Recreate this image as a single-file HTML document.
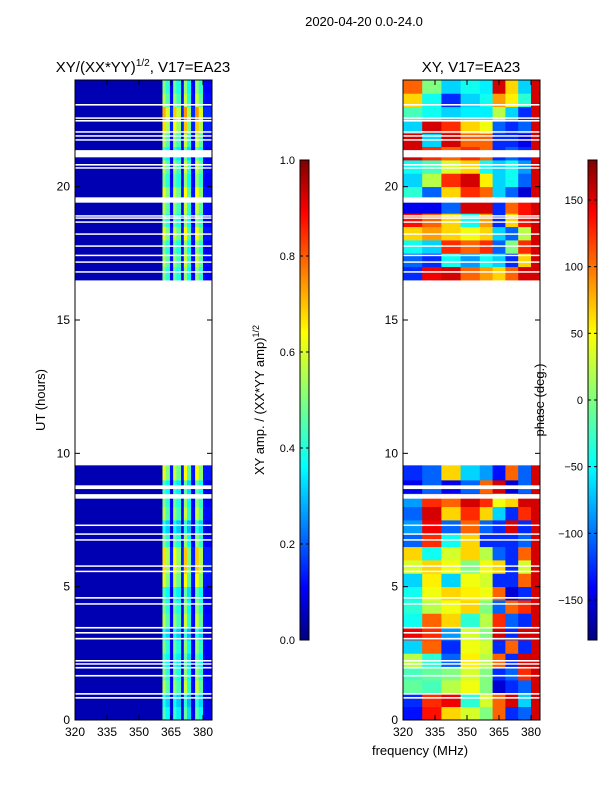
<!DOCTYPE html>
<html><head><meta charset="utf-8">
<style>
html,body{margin:0;padding:0;background:#fff;}
svg{display:block;font-family:"Liberation Sans","DejaVu Sans",sans-serif;}
</style></head>
<body>
<svg id="fig" width="600" height="800" viewBox="0 0 600 800" xmlns="http://www.w3.org/2000/svg">
<rect width="600" height="800" fill="#fff"/>
<text x="364" y="26" font-size="13" text-anchor="middle">2020-04-20 0.0-24.0</text>
<text x="143" y="72" font-size="15" text-anchor="middle">XY/(XX*YY)<tspan dy="-6" font-size="10">1/2</tspan><tspan dy="6">, V17=EA23</tspan></text>
<text x="471" y="72" font-size="15" text-anchor="middle">XY, V17=EA23</text>
<text transform="translate(45,400) rotate(-90)" font-size="13" text-anchor="middle">UT (hours)</text>
<text x="420" y="755" font-size="13" text-anchor="middle">frequency (MHz)</text>
<text transform="translate(264,400) rotate(-90)" font-size="13" text-anchor="middle">XY amp. / (XX*YY amp)<tspan dy="-5" font-size="9">1/2</tspan></text>
<text transform="translate(544,400) rotate(-90)" font-size="13" text-anchor="middle">phase (deg.)</text>
<defs>
<linearGradient id="jet" x1="0" y1="1" x2="0" y2="0">
<stop offset="0" stop-color="#00007f"/><stop offset="0.11" stop-color="#0000ff"/>
<stop offset="0.36" stop-color="#00ffff"/><stop offset="0.5" stop-color="#7fff7f"/>
<stop offset="0.64" stop-color="#ffff00"/><stop offset="0.89" stop-color="#ff0000"/>
<stop offset="1" stop-color="#7f0000"/>
</linearGradient>
</defs>
<g id="left"></g>
<g id="right"></g>
<g id="cb1"></g>
<g id="cb2"></g>
</svg>
<script>
// ---- data ----
const yTicks = [0, 5, 10, 15, 20];
const xTicks = [320, 335, 350, 365, 380];
const ampTicks = [0.0, 0.2, 0.4, 0.6, 0.8, 1.0];
const phaseTicks = [-150, -100, -50, 0, 50, 100, 150];
const gaps = [[0.8,0.86],[0.95,1.01],[1.63,1.69],[1.93,1.99],[2.08,2.13],[2.19,2.25],[3.02,3.08],[3.24,3.3],[3.43,3.49],[4.33,4.38],[4.55,4.61],[5.75,5.8],[5.56,5.6],[6.73,6.78],[6.95,7.0],[7.28,7.33],[8.3,8.47],[8.66,8.8],[16.78,16.83],[17.15,17.2],[17.4,17.45],[17.75,17.8],[18.2,18.25],[18.65,18.7],[18.8,18.85],[18.88,18.93],[19.4,19.6],[20.68,20.73],[20.79,20.85],[21.1,21.37],[21.73,21.78],[21.88,21.93],[22.03,22.08],[22.44,22.5],[22.55,22.6],[23.04,23.1]];
const ampEdges = [320,361,362.5,364.5,366,367.5,369.7,371,372.5,374.4,376.3,378,380,384.3];
const ampChan = [0.05,0.5,0.42,0.12,0.48,0.4,0.12,0.52,0.38,0.12,0.52,0.42,0.12];
const rowStartsLow = [0,0.5,1,1.5,2,2.5,3,3.5,4,4.5,5,5.5,6,6.5,7,7.5,8,8.5,9];
const ampRowLow = [0.9,0.8,1.1,1.0,0.9,1.0,0.8,1.1,1.0,0.9,1.2,1.3,1.3,1.0,0.8,1.1,1.0,0.9,1.2];
const rowStartsHigh = [16.5,17,17.5,18,18.5,19,19.5,20,20.5,21,21.5,22,22.5,23,23.5];
const ampRowHigh = [1.0,1.1,1.0,1.2,1.0,1.1,1.2,1.0,1.1,0.9,1.1,1.3,1.4,1.1,1.0];
const phEdges = [320,329,338,347,356,362,368,374,380,384.3];
const phaseLow = [
[-130,130,60,30,0,100,-120,-100,150],
[-120,120,140,-30,30,100,150,-60,150],
[-10,-20,20,40,0,-150,-120,-100,150],
[-20,-10,0,30,0,-120,-100,120,150],
[20,-30,-100,50,20,100,-120,150,150],
[-60,100,-120,40,30,-120,100,-120,150],
[140,120,-80,30,0,150,-120,150,150],
[-40,100,60,-30,20,120,-100,-120,150],
[-30,20,40,60,0,-100,100,120,150],
[-40,40,60,50,40,100,-150,-120,150],
[-60,50,-60,40,30,-120,-120,100,150],
[30,60,40,0,40,60,-120,30,150],
[60,-40,30,60,20,-100,-120,100,150],
[-100,120,-40,60,-120,-120,-120,-100,150],
[-80,140,-100,100,-100,-120,150,-120,150],
[-100,150,60,120,60,-60,-120,120,150],
[-80,120,100,150,120,40,60,150,150],
[-140,-100,-140,-100,100,150,-150,-100,150],
[-120,-100,60,-60,-80,-130,100,-100,150]];
const phaseHigh = [
[-120,140,150,100,80,60,100,150,150],
[-100,-120,-40,-80,-40,-60,-120,60,150],
[-40,-60,120,100,120,-100,0,120,150],
[60,80,60,40,60,-60,-100,20,150],
[130,100,60,-40,80,-120,60,130,150],
[-140,-140,-100,150,150,-120,100,130,150],
[-30,-100,60,120,100,-60,-100,-150,150],
[-60,20,120,150,50,-60,-40,-100,150],
[-40,-20,30,60,-40,-60,-40,-80,150],
[150,120,100,120,100,-120,-100,-120,150],
[150,-60,150,100,100,-120,-120,-140,150],
[-60,150,120,60,40,-100,-120,-100,150],
[-20,-40,-60,-50,-50,20,-60,-120,150],
[60,-40,-120,-60,-40,80,50,-30,150],
[100,0,-60,-40,-50,150,60,-60,150]];

const NS = "http://www.w3.org/2000/svg";
const TOP = 80, BOT = 720;
const yOf = h => BOT - (h / 24) * (BOT - TOP);
function xScale(x0) { return f => x0 + (f - 320) * (128 / 60); }
function jet(v) {
  v = Math.max(0, Math.min(1, v));
  const c = t => Math.round(255 * Math.max(0, Math.min(1, t)));
  const r = c(Math.min(4 * v - 1.5, -4 * v + 4.5));
  const g = c(Math.min(4 * v - 0.5, -4 * v + 3.5));
  const b = c(Math.min(4 * v + 0.5, -4 * v + 2.5));
  return `rgb(${r},${g},${b})`;
}
function mk(parent, tag, attrs) {
  const e = document.createElementNS(NS, tag);
  for (const k in attrs) e.setAttribute(k, attrs[k]);
  parent.appendChild(e);
  return e;
}

function drawPanel(gid, x0, cellFn, edges, rowsLow, rowsHigh, valsLow, valsHigh) {
  const g = document.getElementById(gid);
  const xs = xScale(x0);
  const W = 137;
  const rowSets = [[rowsLow, valsLow, 9.55], [rowsHigh, valsHigh, 24]];
  rowSets.forEach(([starts, vals, end]) => {
    starts.forEach((s, i) => {
      const e = i + 1 < starts.length ? starts[i + 1] : end;
      for (let j = 0; j < edges.length - 1; j++) {
        const xa = xs(edges[j]), xb = Math.min(xs(edges[j + 1]), x0 + W);
        const r = mk(g, "rect", {x: xa, y: yOf(e), width: xb - xa + 0.4, height: yOf(s) - yOf(e) + 0.4, fill: jet(cellFn(vals[i], j))});
        
        
      }
    });
  });
  gaps.forEach(([a, b]) => {
    const r = mk(g, "rect", {x: x0, y: yOf(b), width: W, height: Math.max(1.5, yOf(a) - yOf(b)), fill: "#fff"});
    
    
  });
  const f = mk(g, "rect", {x: x0, y: TOP, width: W, height: BOT - TOP, fill: "none", stroke: "#000", "stroke-width": 1});
  
  
  yTicks.forEach(t => {
    const y = yOf(t);
    mk(g, "line", {x1: x0, x2: x0 + 5, y1: y, y2: y, stroke: "#000"});
    mk(g, "line", {x1: x0 + W, x2: x0 + W - 5, y1: y, y2: y, stroke: "#000"});
    const tx = mk(g, "text", {x: x0 - 5, y: y + 4, "font-size": 12, "text-anchor": "end"});
    tx.textContent = t;
    
    
  });
  xTicks.forEach(t => {
    const x = xs(t);
    mk(g, "line", {x1: x, x2: x, y1: BOT, y2: BOT - 5, stroke: "#000"});
    mk(g, "line", {x1: x, x2: x, y1: TOP, y2: TOP + 5, stroke: "#000"});
    const tx = mk(g, "text", {x: x, y: BOT + 16, "font-size": 12, "text-anchor": "middle"});
    tx.textContent = t;
    
    
  });
}

drawPanel("left", 75, (rf, j) => j === 0 ? ampChan[0] : ampChan[j] * rf, ampEdges, rowStartsLow, rowStartsHigh, ampRowLow, ampRowHigh);
drawPanel("right", 403, (row, j) => (row[j] + 180) / 360, phEdges, rowStartsLow, rowStartsHigh, phaseLow, phaseHigh);

function colorbar(gid, x, ticks, vmin, vmax, fmt) {
  const g = document.getElementById(gid);
  const r = mk(g, "rect", {x: x, y: 160, width: 9, height: 480, fill: "url(#jet)", stroke: "#000", "stroke-width": 1});
  
  
  ticks.forEach(t => {
    const y = 640 - (t - vmin) / (vmax - vmin) * 480;
    mk(g, "line", {x1: x, x2: x + 3, y1: y, y2: y, stroke: "#000"});
    mk(g, "line", {x1: x + 9, x2: x + 6, y1: y, y2: y, stroke: "#000"});
    const tx = mk(g, "text", {x: x - 5, y: y + 4, "font-size": 11, "text-anchor": "end"});
    tx.textContent = fmt(t);
    
    
  });
}
colorbar("cb1", 300, ampTicks, 0, 1, t => t.toFixed(1));
colorbar("cb2", 588, phaseTicks, -180, 180, t => t < 0 ? "\u2212" + Math.abs(t) : String(t));
</script>
</body></html>
